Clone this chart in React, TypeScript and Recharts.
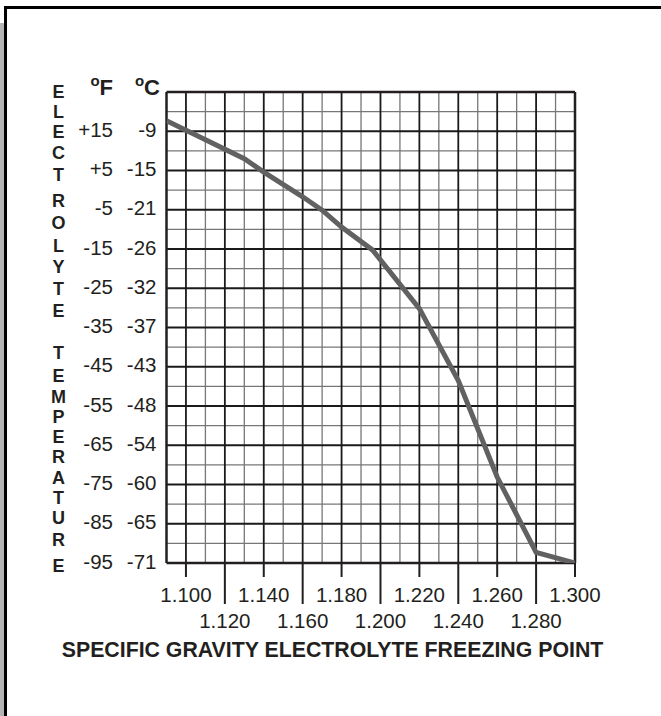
import React from 'react';
import { LineChart, Line, XAxis, YAxis, ReferenceLine } from 'recharts';

// Specific gravity vs electrolyte freezing point (°F)
const specificGravity = [1.09, 1.13, 1.14, 1.16, 1.17, 1.18, 1.196, 1.22, 1.24, 1.26, 1.28, 1.30];
const freezingF = [17.7, 8.0, 4.6, -1.7, -5.1, -9.4, -15.3, -30.2, -48.5, -73.1, -92.3, -95];

const xTicksUpper = [1.10, 1.14, 1.18, 1.22, 1.26, 1.30];
const xTicksLower = [1.12, 1.16, 1.20, 1.24, 1.28];
const xMinorGrid = [1.11, 1.13, 1.15, 1.17, 1.19, 1.21, 1.23, 1.25, 1.27, 1.29];

const fTicks = [15, 5, -5, -15, -25, -35, -45, -55, -65, -75, -85, -95];
const fLabels = ['+15', '+5', '-5', '-15', '-25', '-35', '-45', '-55', '-65', '-75', '-85', '-95'];
const cLabels = ['-9', '-15', '-21', '-26', '-32', '-37', '-43', '-48', '-54', '-60', '-65', '-71'];
const yMinorGrid = [20, 10, 0, -10, -20, -30, -40, -50, -60, -70, -80, -90];

const xDomain = [1.09, 1.30];
const yDomain = [-95, 25];

const title1 = 'ELECTROLYTE';
const title2 = 'TEMPERATURE';
const xTitle = 'SPECIFIC GRAVITY ELECTROLYTE FREEZING POINT';

const data = specificGravity.map((s, i) => ({ sg: s, f: freezingF[i] }));

const FONT = '"Liberation Sans", Arial, Helvetica, sans-serif';
const INK = '#231f20';

const allXTicks = [...xTicksUpper, ...xTicksLower].sort((a, b) => a - b);

function XTick(props: any) {
  const { x, y, payload } = props;
  const v = payload.value as number;
  const upper = xTicksUpper.some((t) => Math.abs(t - v) < 1e-6);
  const len = upper ? 14 : 41;
  const ty = upper ? 38.7 : 65;
  return (
    <g>
      <line x1={x} y1={y} x2={x} y2={y + len} stroke={INK} strokeWidth={2} />
      <text x={x} y={y + ty} textAnchor="middle" fontSize={20.5} fill={INK} fontFamily={FONT}>
        {v.toFixed(3)}
      </text>
    </g>
  );
}

function YTick(props: any) {
  const { x, y, payload } = props;
  const idx = fTicks.findIndex((t) => Math.abs(t - payload.value) < 1e-6);
  if (idx < 0) return null;
  return (
    <g fontFamily={FONT} fontSize={20.5} fill={INK}>
      <text x={x - 53.5} y={y + 5.5} textAnchor="end">{fLabels[idx]}</text>
      <text x={x - 10} y={y + 5.5} textAnchor="end">{cLabels[idx]}</text>
    </g>
  );
}

const t1Y = [92, 112, 132, 153, 175, 201, 223, 246, 267, 289, 311];
const t2Y = [353, 376, 397, 417, 437, 457, 478, 498, 518, 540, 566];

export default function App() {
  return (
    <div style={{ position: 'absolute', left: 0, top: 0, width: 661, height: 716, background: '#fff', overflow: 'hidden' }}>
      <div style={{ position: 'absolute', left: 0, top: 23, width: 4, height: 693, background: '#b5b5b5' }} />
      <div style={{ position: 'absolute', left: 4, top: 6, width: 657, height: 3, background: '#000' }} />
      <div style={{ position: 'absolute', left: 4, top: 6, width: 3, height: 710, background: '#000' }} />
      <div style={{ position: 'absolute', left: 0, top: 0 }}>
        <LineChart width={661} height={716} data={data} margin={{ top: 92, right: 86, bottom: 0, left: 0 }}>
          <XAxis
            dataKey="sg"
            type="number"
            domain={xDomain}
            ticks={allXTicks}
            allowDataOverflow
            height={153}
            tickSize={0}
            tickMargin={0}
            tickLine={false}
            axisLine={false}
            tick={<XTick />}
            interval={0}
          />
          <YAxis
            type="number"
            domain={yDomain}
            ticks={fTicks}
            allowDataOverflow
            width={166.5}
            tickSize={0}
            tickMargin={0}
            tickLine={false}
            axisLine={false}
            tick={<YTick />}
            interval={0}
          />
          {xMinorGrid.map((v) => (
            <ReferenceLine key={'xm' + v} x={v} stroke="#777" strokeWidth={1.3} />
          ))}
          {yMinorGrid.map((v) => (
            <ReferenceLine key={'ym' + v} y={v} stroke="#777" strokeWidth={1.3} />
          ))}
          {allXTicks.filter((v) => v < 1.299).map((v) => (
            <ReferenceLine key={'xM' + v} x={v} stroke="#1a1a1a" strokeWidth={1.8} />
          ))}
          {fTicks.filter((v) => v > -94).map((v) => (
            <ReferenceLine key={'yM' + v} y={v} stroke="#1a1a1a" strokeWidth={1.8} />
          ))}
          <ReferenceLine x={xDomain[0]} stroke={INK} strokeWidth={2.5} />
          <ReferenceLine x={xDomain[1]} stroke={INK} strokeWidth={2.5} />
          <ReferenceLine y={yDomain[0]} stroke={INK} strokeWidth={2.5} />
          <ReferenceLine y={yDomain[1]} stroke={INK} strokeWidth={2.5} />
          <Line
            dataKey="f"
            type="linear"
            stroke="#616161"
            strokeWidth={5}
            dot={false}
            isAnimationActive={false}
          />
        </LineChart>
      </div>
      <svg width={661} height={716} style={{ position: 'absolute', left: 0, top: 0, pointerEvents: 'none' }}>
        <g fontFamily={FONT} fontWeight="bold" fill={INK}>
          <text x={113} y={95} textAnchor="end">
            <tspan fontSize={15} dy={-9}>o</tspan>
            <tspan fontSize={22} dy={9}>F</tspan>
          </text>
          <text x={160} y={95} textAnchor="end">
            <tspan fontSize={15} dy={-9}>o</tspan>
            <tspan fontSize={22} dy={9}>C</tspan>
          </text>
          <text textAnchor="middle" fontSize={18}>
            {title1.split('').map((ch, i) => (
              <tspan key={'a' + i} x={58.5} y={t1Y[i] + 6.3}>{ch}</tspan>
            ))}
          </text>
          <text textAnchor="middle" fontSize={18}>
            {title2.split('').map((ch, i) => (
              <tspan key={'b' + i} x={58.5} y={t2Y[i] + 6.3}>{ch}</tspan>
            ))}
          </text>
          <text x={332.5} y={656.5} textAnchor="middle" fontSize={21.3}>{xTitle}</text>
        </g>
      </svg>
    </div>
  );
}
